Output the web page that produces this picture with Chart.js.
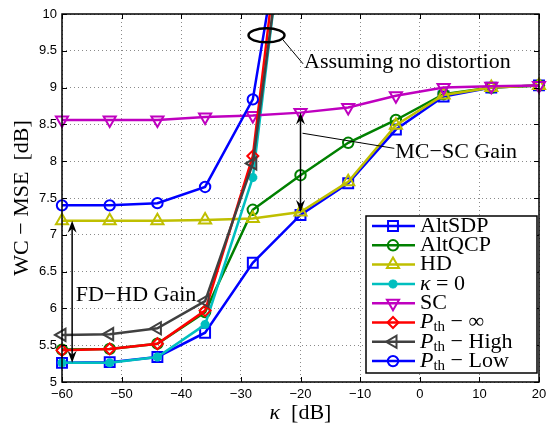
<!DOCTYPE html>
<html>
<head>
<meta charset="utf-8">
<script src="https://cdn.jsdelivr.net/npm/chart.js@4.4.1/dist/chart.umd.min.js"></script>
<style>
  html, body { margin: 0; padding: 0; background: #fff; }
  #wrap { width: 548px; height: 433px; }
</style>
</head>
<body>
<div id="wrap"><canvas id="mseChart"></canvas></div>
<script>
// kappa sweep [dB]
const kappaDb = [-60, -52, -44, -36, -28, -20, -12, -4, 4, 12, 20];

// worst-case MSE [dB] per scheme
const altSdp  = [5.26, 5.27, 5.34, 5.67, 6.62, 7.27, 7.70, 8.43, 8.88, 9.00, 9.03];
const altQcp  = [5.44, 5.45, 5.52, 5.95, 7.34, 7.81, 8.25, 8.56, 8.91, 9.00, 9.03];
const hd      = [7.19, 7.19, 7.19, 7.20, 7.22, 7.31, 7.72, 8.49, 8.90, 9.00, 9.03];
const kappa0  = [5.26, 5.26, 5.34, 5.78, 7.78, 13.1];
const sc      = [8.56, 8.56, 8.56, 8.60, 8.62, 8.66, 8.73, 8.89, 9.00, 9.02, 9.03];
const pthInf  = [5.43, 5.45, 5.52, 5.97, 8.07, 13.5];
const pthHigh = [5.64, 5.65, 5.73, 6.10, 7.97, 12.9];
const pthLow  = [7.40, 7.40, 7.43, 7.65, 8.84, 12.74];

const xTicks = [-60, -50, -40, -30, -20, -10, 0, 10, 20];
const yTicks = [5, 5.5, 6, 6.5, 7, 7.5, 8, 8.5, 9, 9.5, 10];

const SERIF = '"Liberation Serif", "DejaVu Serif", serif';
const SANS = '"Liberation Sans", Arial, sans-serif';

function minusLabel(v) {
  return v < 0 ? '\u2212' + Math.abs(v) : String(v);
}

// label pieces: plain, italic, subscript
const P_TH = [{t: 'P', it: true}, {t: 'th', sub: true}];
const series = [
  {name: [{t: 'AltSDP'}], data: altSdp, color: '#0000ff', style: 'rect', r: 7, rot: 0},
  {name: [{t: 'AltQCP'}], data: altQcp, color: '#008000', style: 'circle', r: 5.2, rot: 0},
  {name: [{t: 'HD'}], data: hd, color: '#bfbf00', style: 'triangle', r: 7, rot: 0},
  {name: [{t: '\u03ba', it: true}, {t: ' = 0'}], data: kappa0, color: '#00bfbf', style: 'star', r: 4.5, rot: 0, bw: 3},
  {name: [{t: 'SC'}], data: sc, color: '#bf00bf', style: 'triangle', r: 7, rot: 180},
  {name: P_TH.concat([{t: ' \u2212 \u221e'}]), data: pthInf, color: '#ff0000', style: 'rectRot', r: 5.5, rot: 0},
  {name: P_TH.concat([{t: ' \u2212 High'}]), data: pthHigh, color: '#404040', style: 'triangle', r: 7, rot: -90},
  {name: P_TH.concat([{t: ' \u2212 Low'}]), data: pthLow, color: '#0000ff', style: 'circle', r: 5.2, rot: 0}
];

const datasets = series.map((s, i) => ({
  label: s.name.map(p => p.t).join(''),
  data: s.data.map((v, j) => ({x: kappaDb[j], y: v})),
  borderColor: s.color,
  borderWidth: 2.5,
  pointStyle: s.style,
  pointRadius: s.r,
  pointRotation: s.rot,
  pointBorderWidth: s.bw || 2,
  pointBorderColor: s.color,
  pointBackgroundColor: 'rgba(0,0,0,0)',
  tension: 0,
  order: series.length - 1 - i,
  clip: {left: 12, right: 12, top: 0, bottom: 12}
}));

function drawPieces(ctx, pieces, x, y, size) {
  let cx = x;
  pieces.forEach(p => {
    if (p.sub) {
      ctx.font = Math.round(size * 0.68) + 'px ' + SERIF;
      ctx.fillText(p.t, cx, y + size * 0.22);
    } else {
      ctx.font = (p.it ? 'italic ' : '') + size + 'px ' + SERIF;
      ctx.fillText(p.t, cx, y);
    }
    cx += ctx.measureText(p.t).width;
  });
}

function arrowHead(ctx, x, y, dir) {
  // dir = -1 points up, 1 points down
  const len = 12, half = 4.5, notch = 4;
  ctx.beginPath();
  ctx.moveTo(x, y);
  ctx.lineTo(x - half, y - dir * len);
  ctx.lineTo(x, y - dir * (len - notch));
  ctx.lineTo(x + half, y - dir * len);
  ctx.closePath();
  ctx.fill();
}

function doubleArrow(ctx, x, yTop, yBot) {
  ctx.beginPath();
  ctx.moveTo(x, yTop + 6);
  ctx.lineTo(x, yBot - 6);
  ctx.stroke();
  arrowHead(ctx, x, yTop, -1);
  arrowHead(ctx, x, yBot, 1);
}

function line(ctx, x1, y1, x2, y2) {
  ctx.beginPath();
  ctx.moveTo(x1, y1);
  ctx.lineTo(x2, y2);
  ctx.stroke();
}

const overlay = {
  id: 'overlay',
  afterDraw(chart) {
    const {ctx, chartArea: a} = chart;
    const xs = chart.scales.x, ys = chart.scales.y;
    ctx.save();

    // inward ticks on all four sides
    ctx.strokeStyle = '#000';
    ctx.lineWidth = 1;
    xTicks.forEach(v => {
      const px = Math.round(xs.getPixelForValue(v)) + 0.5;
      line(ctx, px, a.bottom, px, a.bottom - 5);
      line(ctx, px, a.top, px, a.top + 5);
    });
    yTicks.forEach(v => {
      const py = Math.round(ys.getPixelForValue(v)) + 0.5;
      line(ctx, a.left, py, a.left + 5, py);
      line(ctx, a.right, py, a.right - 5, py);
    });
    ctx.lineWidth = 1.5;
    ctx.strokeRect(a.left, a.top, a.right - a.left, a.bottom - a.top);

    // axis titles
    ctx.fillStyle = '#000';
    ctx.textBaseline = 'middle';
    ctx.textAlign = 'left';
    ctx.font = 'italic 22px ' + SERIF;
    const kw = ctx.measureText('\u03ba').width;
    ctx.font = '22px ' + SERIF;
    const dw = ctx.measureText('  [dB]').width;
    drawPieces(ctx, [{t: '\u03ba', it: true}, {t: '  [dB]'}], (a.left + a.right) / 2 - (kw + dw) / 2, 413, 22);

    ctx.save();
    ctx.translate(22, (a.top + a.bottom) / 2);
    ctx.rotate(-Math.PI / 2);
    ctx.textAlign = 'center';
    ctx.font = '22px ' + SERIF;
    ctx.fillText('WC \u2212 MSE  [dB]', 0, 0);
    ctx.restore();

    // "assuming no distortion" marker
    const ex = xs.getPixelForValue(-25.7), ey = ys.getPixelForValue(9.71);
    ctx.lineWidth = 2.5;
    ctx.beginPath();
    ctx.ellipse(ex, ey, 18, 7, 0, 0, Math.PI * 2);
    ctx.stroke();
    ctx.lineWidth = 1;
    const tx = xs.getPixelForValue(-19.4), ty = ys.getPixelForValue(9.35);
    line(ctx, ex + 16, ey + 4, tx - 1, ty + 2);
    ctx.textAlign = 'left';
    drawPieces(ctx, [{t: 'Assuming no distortion'}], tx, ty, 22);

    // MC-SC gain at kappa = -20 dB
    ctx.lineWidth = 1.5;
    const ax = xs.getPixelForValue(kappaDb[5]);
    doubleArrow(ctx, ax, ys.getPixelForValue(sc[5]), ys.getPixelForValue(hd[5]));
    const mx = xs.getPixelForValue(-4.1), my = ys.getPixelForValue(8.12);
    ctx.lineWidth = 1;
    line(ctx, ax + 2, ys.getPixelForValue(8.38), mx - 1, my - 4);
    drawPieces(ctx, [{t: 'MC\u2212SC Gain'}], mx, my, 22);

    // FD-HD gain at the left edge
    ctx.lineWidth = 1.5;
    doubleArrow(ctx, xs.getPixelForValue(-58.3), ys.getPixelForValue(hd[0]), ys.getPixelForValue(kappa0[0]));
    drawPieces(ctx, [{t: 'FD\u2212HD Gain'}], xs.getPixelForValue(-57.7), ys.getPixelForValue(6.18), 22);

    // legend box
    const lx = 366, ly = 216, lw = 171, lh = 157;
    ctx.fillStyle = '#fff';
    ctx.fillRect(lx, ly, lw, lh);
    ctx.strokeStyle = '#000';
    ctx.lineWidth = 1.5;
    ctx.strokeRect(lx, ly, lw, lh);
    series.forEach((s, i) => {
      const rowY = ly + 10 + i * 19.3;
      ctx.strokeStyle = s.color;
      ctx.lineWidth = 2.5;
      line(ctx, lx + 6, rowY, lx + 49, rowY);
      ctx.fillStyle = 'rgba(0,0,0,0)';
      ctx.lineWidth = s.bw || 2;
      Chart.helpers.drawPoint(ctx, {pointStyle: s.style, radius: s.r, rotation: s.rot, borderWidth: s.bw || 2}, lx + 27, rowY);
      ctx.fillStyle = '#000';
      drawPieces(ctx, s.name, lx + 54, rowY, 22);
    });

    ctx.restore();
  }
};

new Chart(document.getElementById('mseChart'), {
  type: 'line',
  data: {datasets: datasets},
  options: {
    responsive: true,
    maintainAspectRatio: false,
    animation: false,
    devicePixelRatio: 1,
    layout: {padding: {top: 14, right: 5, left: 0, bottom: 0}},
    plugins: {legend: {display: false}, tooltip: {enabled: false}},
    scales: {
      x: {
        type: 'linear',
        min: -60,
        max: 20,
        afterBuildTicks: s => { s.ticks = xTicks.map(v => ({value: v})); },
        afterFit: s => { s.height = 51; s.paddingLeft = 0; s.paddingRight = 0; },
        ticks: {callback: minusLabel, color: '#000', font: {family: SANS, size: 13}, padding: 5, maxRotation: 0},
        grid: {color: '#8a8a8a', lineWidth: 1, drawTicks: false},
        border: {display: false, dash: [1, 3]}
      },
      y: {
        min: 5,
        max: 10,
        afterBuildTicks: s => { s.ticks = yTicks.map(v => ({value: v})); },
        afterFit: s => { s.width = 62; s.paddingTop = 0; s.paddingBottom = 0; },
        ticks: {callback: v => String(v), color: '#000', font: {family: SANS, size: 13}, padding: 5},
        grid: {color: '#8a8a8a', lineWidth: 1, drawTicks: false},
        border: {display: false, dash: [1, 3]}
      }
    }
  },
  plugins: [overlay]
});
</script>
</body>
</html>
